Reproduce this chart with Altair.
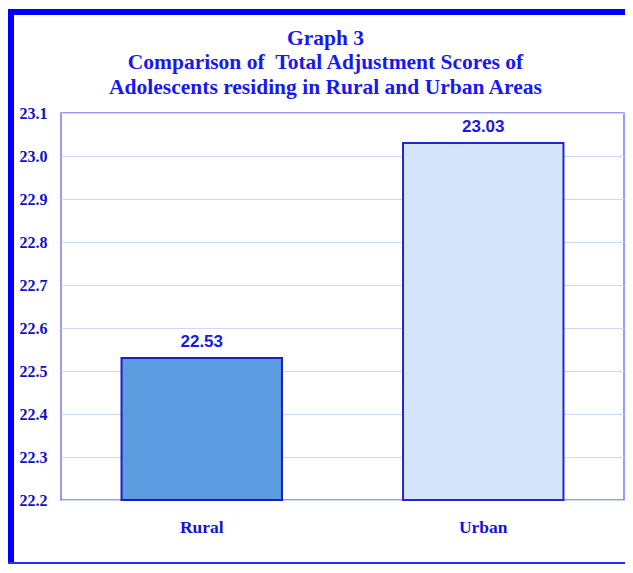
import altair as alt
import pandas as pd

categories = ["Rural", "Urban"]
scores = [22.53, 23.03]
fills = ["#5b9be0", "#d4e4fb"]
strokes = ["#1c1cc8", "#2626d0"]
y_ticks = [22.2, 22.3, 22.4, 22.5, 22.6, 22.7, 22.8, 22.9, 23.0, 23.1]
title_lines = ["Graph 3", "Comparison of \u00a0Total Adjustment Scores of",
               "Adolescents residing in Rural and Urban Areas"]

df = pd.DataFrame({"area": categories, "score": scores, "base": [22.2] * 2})

W, H = 563, 387
x_enc = alt.X("area:N", sort=categories,
              scale=alt.Scale(paddingInner=0.43, paddingOuter=0.215),
              axis=alt.Axis(title=None, labelAngle=0, ticks=False, domain=False,
                            labelFont="Liberation Serif", labelFontWeight="bold",
                            labelFontSize=17.5, labelColor="#1414d8", labelPadding=18))
y_scale = alt.Scale(domain=[22.2, 23.1], zero=False, nice=False)

bars = alt.Chart(df).mark_bar(strokeWidth=2).encode(
    x=x_enc,
    y=alt.Y("score:Q", scale=y_scale,
            axis=alt.Axis(title=None, values=y_ticks, format=".1f", ticks=False,
                          domain=False, gridColor="#c9d9f2", gridWidth=1,
                          labelFont="Liberation Serif", labelFontWeight="bold",
                          labelFontSize=16, labelColor="#1010c8", labelPadding=14)),
    y2="base:Q",
    fill=alt.Fill("area:N", scale=alt.Scale(domain=categories, range=fills), legend=None),
    stroke=alt.Stroke("area:N", scale=alt.Scale(domain=categories, range=strokes), legend=None),
)

labels = alt.Chart(df).mark_text(font="Liberation Sans", fontWeight="bold", fontSize=17,
                                 color="#1a1ae0", baseline="alphabetic", dy=-11).encode(
    x=alt.X("area:N", sort=categories),
    y=alt.Y("score:Q", scale=y_scale),
    text=alt.Text("score:Q", format=".2f"),
)

frame_data = alt.Data(values=[{"k": 1}])
top_rule = alt.Chart(frame_data).mark_rule(color="#0000ff", strokeWidth=6).encode(
    x=alt.value(-53), x2=alt.value(W + 1), y=alt.value(-101))
left_rule = alt.Chart(frame_data).mark_rule(color="#0000ff", strokeWidth=6).encode(
    x=alt.value(-50), y=alt.value(-104), y2=alt.value(H + 64))
bottom_rule = alt.Chart(frame_data).mark_rule(color="#2a2aff", strokeWidth=2).encode(
    x=alt.value(-53), x2=alt.value(W + 1), y=alt.value(H + 63))

chart = alt.layer(bars, labels, top_rule, left_rule, bottom_rule).properties(
    width=W, height=H,
    autosize=alt.AutoSizeParams(type="none"),
    padding={"left": 53, "top": 105, "right": 1, "bottom": 65},
    background="white",
    title=alt.TitleParams(text=title_lines, font="Liberation Serif", fontWeight="bold",
                          fontSize=21.5, color="#1818f0", anchor="middle", dx=-17,
                          lineHeight=24.5, offset=-92),
).configure_view(stroke="#7b7bf0", strokeWidth=1.5)

chart.save("out.html", embed_options={"renderer": "svg", "actions": False})
